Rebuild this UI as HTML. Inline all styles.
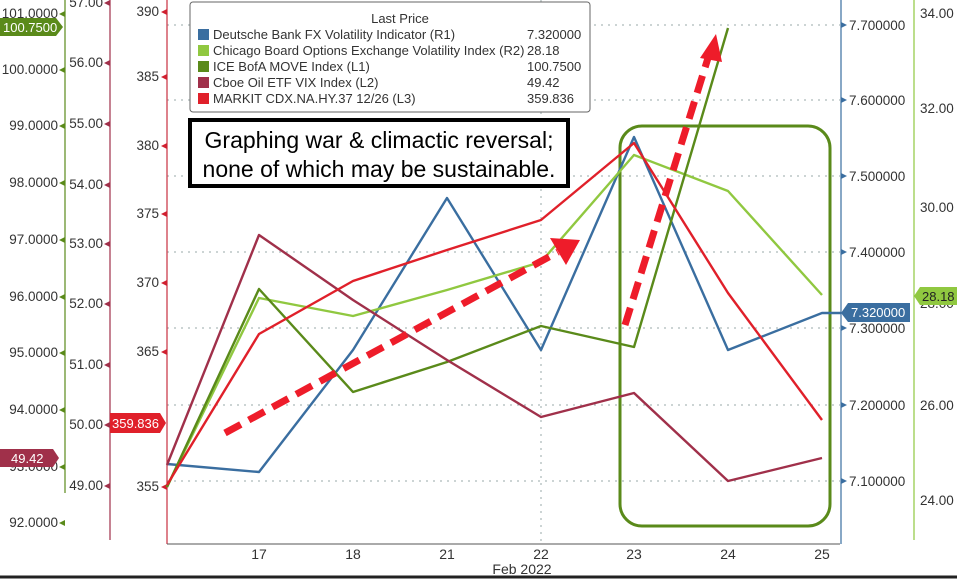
<!DOCTYPE html>
<html><head><meta charset="utf-8"><style>
html,body{margin:0;padding:0;background:#fff;}
svg text{font-family:"Liberation Sans",sans-serif;}
</style></head><body>
<svg width="957" height="579" viewBox="0 0 957 579" xmlns="http://www.w3.org/2000/svg">
<rect width="957" height="579" fill="#fff"/>
<g stroke="#9aa" stroke-width="1" stroke-dasharray="2,5">
<line x1="167" y1="25" x2="840" y2="25"/>
<line x1="167" y1="100" x2="840" y2="100"/>
<line x1="167" y1="176" x2="840" y2="176"/>
<line x1="167" y1="252" x2="840" y2="252"/>
<line x1="167" y1="328" x2="840" y2="328"/>
<line x1="167" y1="405" x2="840" y2="405"/>
<line x1="167" y1="481" x2="840" y2="481"/>
<line x1="541" y1="0" x2="541" y2="544"/>
</g>
<line x1="65" y1="0" x2="65" y2="493" stroke="#5a8a1a" stroke-width="1.2"/>
<g font-size="13.5" fill="#333" text-anchor="end">
<text x="58" y="18">101.0000</text>
<text x="58" y="74">100.0000</text>
<text x="58" y="130">99.0000</text>
<text x="58" y="187">98.0000</text>
<text x="58" y="244">97.0000</text>
<text x="58" y="301">96.0000</text>
<text x="58" y="357">95.0000</text>
<text x="58" y="414">94.0000</text>
<text x="58" y="471">93.0000</text>
<text x="58" y="527">92.0000</text>
</g>
<g fill="#5a8a1a">
<polygon points="59,14 65,11 65,17"/><polygon points="59,70 65,67 65,73"/><polygon points="59,126 65,123 65,129"/><polygon points="59,183 65,180 65,186"/><polygon points="59,240 65,237 65,243"/><polygon points="59,297 65,294 65,300"/><polygon points="59,353 65,350 65,356"/><polygon points="59,410 65,407 65,413"/><polygon points="59,467 65,464 65,470"/><polygon points="59,523 65,520 65,526"/>
</g>
<line x1="110" y1="0" x2="110" y2="540" stroke="#a0304a" stroke-width="1.2"/>
<g font-size="13.5" fill="#333" text-anchor="end">
<text x="103" y="7">57.00</text>
<text x="103" y="67">56.00</text>
<text x="103" y="128">55.00</text>
<text x="103" y="189">54.00</text>
<text x="103" y="248">53.00</text>
<text x="103" y="308">52.00</text>
<text x="103" y="369">51.00</text>
<text x="103" y="429">50.00</text>
<text x="103" y="490">49.00</text>
</g>
<g fill="#a0304a">
<polygon points="104,3 110,0 110,6"/><polygon points="104,63 110,60 110,66"/><polygon points="104,124 110,121 110,127"/><polygon points="104,185 110,182 110,188"/><polygon points="104,244 110,241 110,247"/><polygon points="104,304 110,301 110,307"/><polygon points="104,365 110,362 110,368"/><polygon points="104,425 110,422 110,428"/><polygon points="104,486 110,483 110,489"/>
</g>
<line x1="167" y1="0" x2="167" y2="544" stroke="#c83040" stroke-width="1.2"/>
<g font-size="13.5" fill="#333" text-anchor="end">
<text x="159" y="16">390</text>
<text x="159" y="81">385</text>
<text x="159" y="150">380</text>
<text x="159" y="218">375</text>
<text x="159" y="287">370</text>
<text x="159" y="356">365</text>
<text x="159" y="491">355</text>
</g>
<g fill="#d02030">
<polygon points="161,12 167,9 167,15"/><polygon points="161,77 167,74 167,80"/><polygon points="161,146 167,143 167,149"/><polygon points="161,214 167,211 167,217"/><polygon points="161,283 167,280 167,286"/><polygon points="161,352 167,349 167,355"/><polygon points="161,487 167,484 167,490"/>
</g>
<line x1="167" y1="544" x2="840" y2="544" stroke="#555" stroke-width="1"/>
<g font-size="14" fill="#333" text-anchor="middle">
<text x="259" y="559">17</text><text x="353" y="559">18</text><text x="447" y="559">21</text><text x="541" y="559">22</text><text x="634" y="559">23</text><text x="728" y="559">24</text><text x="822" y="559">25</text>
<text x="522" y="574">Feb 2022</text>
</g>
<line x1="0" y1="577" x2="957" y2="577" stroke="#222" stroke-width="3"/>
<line x1="841" y1="0" x2="841" y2="544" stroke="#3a6ea0" stroke-width="1.2"/>
<g font-size="13.5" fill="#333">
<text x="849" y="30">7.700000</text><text x="849" y="105">7.600000</text><text x="849" y="181">7.500000</text><text x="849" y="257">7.400000</text><text x="849" y="333">7.300000</text><text x="849" y="410">7.200000</text><text x="849" y="486">7.100000</text>
</g>
<g fill="#3a6ea0">
<polygon points="847,25 841,22 841,28"/><polygon points="847,100 841,97 841,103"/><polygon points="847,176 841,173 841,179"/><polygon points="847,252 841,249 841,255"/><polygon points="847,328 841,325 841,331"/><polygon points="847,405 841,402 841,408"/><polygon points="847,481 841,478 841,484"/>
</g>
<line x1="914" y1="0" x2="914" y2="540" stroke="#90c840" stroke-width="1.2"/>
<g font-size="13.5" fill="#333">
<text x="920" y="18">34.00</text><text x="920" y="113">32.00</text><text x="920" y="212">30.00</text><text x="920" y="308">28.00</text><text x="920" y="410">26.00</text><text x="920" y="505">24.00</text>
</g>
<rect x="620" y="126" width="210" height="400" rx="22" fill="none" stroke="#5a8a1a" stroke-width="3"/>
<g fill="none" stroke-width="2.4" stroke-linejoin="round">
<polyline stroke="#3a6ea0" points="167,464 259,472 353,350 447,198 541,350 634,137 728,350 822,313 841,313"/>
<polyline stroke="#90c840" points="167,487 259,298 353,316 447,290 541,262 634,155 728,191 822,295"/>
<polyline stroke="#5a8a1a" points="167,487 259,289 353,392 447,362 541,326 634,347 728,28"/>
<polyline stroke="#a0304a" points="167,465 259,235 353,300 447,360 541,417 634,393 728,481 822,458"/>
<polyline stroke="#e0202a" points="167,485 259,334 353,281 447,250 541,220 634,143 728,293 822,420"/>
</g>
<g stroke="#ee1c2a" stroke-width="7" stroke-dasharray="18,9" fill="none">
<line x1="225" y1="433" x2="558" y2="252"/>
<line x1="625" y1="325" x2="708" y2="58"/>
</g>
<polygon points="580,240 550,238 566,265" fill="#ee1c2a"/>
<polygon points="716,34 700,58 722,62" fill="#ee1c2a"/>
<polygon points="0,18 56,18 63,27 56,36 0,36" fill="#5a8a1a"/>
<text x="3" y="32" font-size="13" fill="#fff">100.7500</text>
<polygon points="0,449 53,449 59,458 53,467 0,467" fill="#a0304a"/>
<text x="11" y="463" font-size="13" fill="#fff">49.42</text>
<polygon points="110,413 160,413 166,423 160,433 110,433" fill="#e0202a"/>
<text x="112" y="428" font-size="13" fill="#fff">359.836</text>
<polygon points="841,313 848,303 910,303 910,322 848,322" fill="#3a6ea0"/>
<text x="851" y="317" font-size="13" fill="#fff">7.320000</text>
<polygon points="914,296 920,287 957,287 957,305 920,305" fill="#90c840"/>
<text x="922" y="301" font-size="13" fill="#222">28.18</text>
<rect x="190" y="2" width="400" height="110" rx="3" fill="#fff" stroke="#666" stroke-width="1"/>
<g font-size="13" fill="#333">
<text x="400" y="23" text-anchor="middle">Last Price</text>
<rect x="198" y="29" width="11" height="11" fill="#3a6ea0"/><text x="213" y="39">Deutsche Bank FX Volatility Indicator  (R1)</text><text x="527" y="39">7.320000</text>
<rect x="198" y="45" width="11" height="11" fill="#90c840"/><text x="213" y="55">Chicago Board Options Exchange Volatility Index  (R2)</text><text x="527" y="55">28.18</text>
<rect x="198" y="61" width="11" height="11" fill="#5a8a1a"/><text x="213" y="71">ICE BofA MOVE Index  (L1)</text><text x="527" y="71">100.7500</text>
<rect x="198" y="77" width="11" height="11" fill="#a0304a"/><text x="213" y="87">Cboe Oil ETF VIX Index  (L2)</text><text x="527" y="87">49.42</text>
<rect x="198" y="93" width="11" height="11" fill="#e0202a"/><text x="213" y="103">MARKIT CDX.NA.HY.37 12/26  (L3)</text><text x="527" y="103">359.836</text>
</g>
<rect x="190" y="120" width="378" height="66" fill="#fff" stroke="#000" stroke-width="4"/>
<g font-size="23" fill="#000" text-anchor="middle">
<text x="379" y="148">Graphing war &amp; climactic reversal;</text>
<text x="379" y="177">none of which may be sustainable.</text>
</g>
</svg>
</body></html>
